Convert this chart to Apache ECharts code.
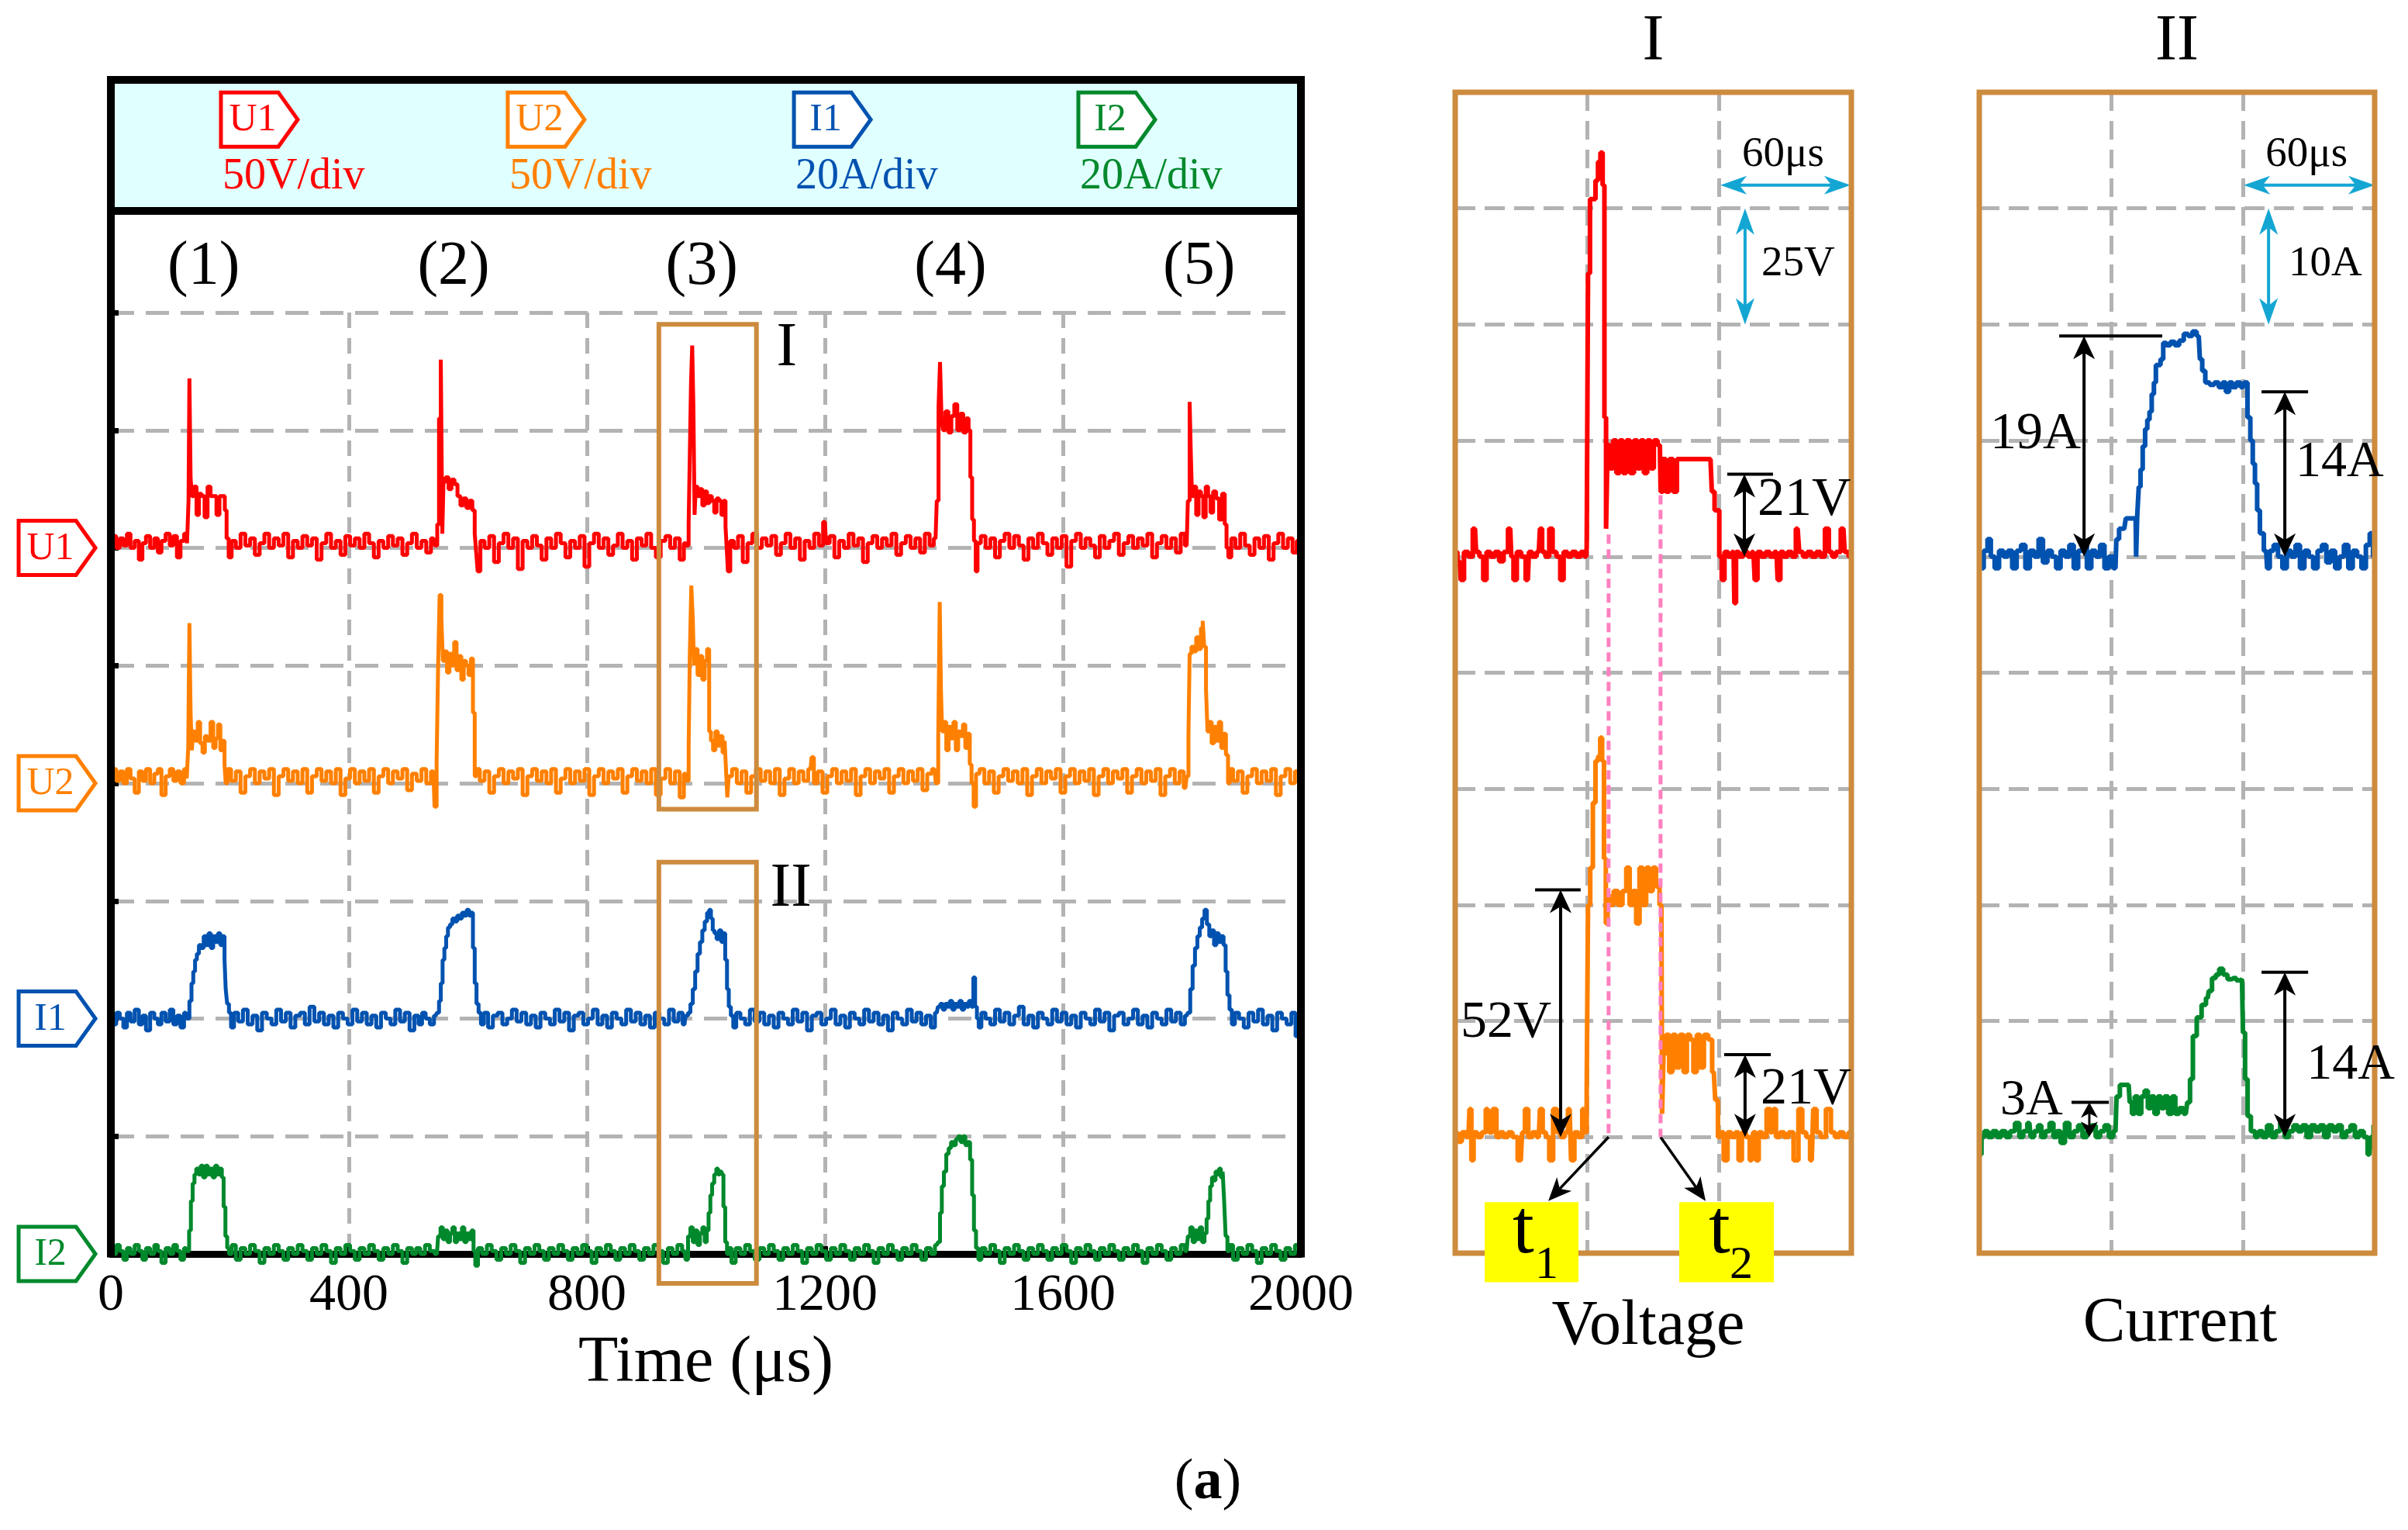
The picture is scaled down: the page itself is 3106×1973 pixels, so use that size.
<!DOCTYPE html>
<html><head><meta charset="utf-8">
<script src="https://cdn.jsdelivr.net/npm/echarts@6/dist/echarts.min.js"></script>
<style>html,body{margin:0;padding:0;background:#fff}#c{width:3106px;height:1973px}</style>
</head><body><div id="c"></div>
<script>
// ---------------- DATA ----------------
const xTicks = [0, 400, 800, 1200, 1600, 2000];          // µs
const zoomTicks = [0, 60, 120, 180];                     // µs (60 µs/div)
const channelNames = ['U1', 'U2', 'I1', 'I2'];
const channelScaleText = ['50V/div', '50V/div', '20A/div', '20A/div'];
const mainPerDiv = [50, 50, 20, 20];
const mainOffsetDiv = [6, 4, 2, 0];
const zoomPerDiv = [25, 25, 10, 10];
const zoomOffsetDiv = [6, 1, 6, 1];
const eventLabels = ['(1)', '(2)', '(3)', '(4)', '(5)'];
const eventTimes = [156, 576, 993, 1411, 1829];

// U1 (V) vs time (µs), main record
const U1_main = [[0,2],[6,5],[12,0],[18,4],[24,1],[30,6],[36,0],[44,3],[50,-5],[56,2],[62,5],[70,0],[76,4],[82,-2],[88,3],[96,6],[102,1],[108,5],[114,-4],[120,3],[126,6],[130,2],
[131,20],[133,72],[135,30],[137,22],[142,26],[146,14],[150,23],[155,22],[160,13],[165,26],[170,22],[175,22],[180,14],[185,22],[190,22],[193,16],[196,4],
[200,-4],[206,3],[214,0],[222,6],[230,1],[238,4],[246,-3],[254,2],[262,6],[270,0],[278,4],[286,1],[294,6],[302,-4],[310,3],[318,0],[326,5],[334,1],[342,4],[350,-5],[358,2],[366,6],[374,0],[382,3],[390,-3],[398,5],[406,1],[414,4],[422,0],[430,6],[438,2],[446,-4],[454,3],[462,0],[470,5],[478,1],[486,4],[494,-3],[502,2],[510,6],[518,0],[526,3],[534,-2],[542,4],[547,1],
[550,10],[553,55],[556,80],[558,6],[560,28],[565,30],[570,25],[575,29],[580,27],[585,22],[590,18],[595,21],[600,17],[605,20],[610,16],[613,6],[615,-2],
[618,-10],[624,3],[632,0],[640,5],[648,-6],[656,2],[664,6],[672,0],[680,4],[688,-9],[696,3],[704,0],[712,5],[720,1],[728,-5],[736,4],[744,0],[752,6],[760,2],[768,-4],[776,3],[784,0],[792,5],[800,-8],[808,2],[816,6],[824,0],[832,4],[840,-3],[848,1],[856,6],[864,0],[872,3],[880,-5],[888,4],[896,1],[904,6],[912,0],[920,-4],[928,3],[936,5],[944,0],[952,4],[960,-5],[966,2],[970,1],
[972,10],[974,40],[976,70],[978,86],[980,60],[982,14],[984,26],[988,22],[992,25],[996,18],[1000,24],[1004,19],[1008,22],[1012,20],[1016,15],[1020,21],[1024,20],[1028,14],[1032,20],[1034,9],[1036,0],
[1038,-10],[1044,3],[1050,0],[1058,5],[1066,-6],[1074,2],[1082,6],[1090,0],[1098,4],[1106,1],[1114,5],[1122,-3],[1130,2],[1138,6],[1146,0],[1154,4],[1162,-5],[1170,3],[1178,0],[1186,6],[1194,1],[1200,11],[1204,2],[1212,5],[1220,-4],[1228,3],[1236,0],[1244,6],[1252,1],[1260,4],[1268,-6],[1276,2],[1284,5],[1292,0],[1300,4],[1308,1],[1316,6],[1324,-3],[1332,2],[1340,5],[1348,0],[1356,4],[1364,-2],[1372,6],[1380,1],[1386,4],
[1390,20],[1392,60],[1395,79],[1397,55],[1400,50],[1405,58],[1410,49],[1415,56],[1420,61],[1425,50],[1430,57],[1435,49],[1440,55],[1443,50],[1446,30],[1449,12],[1452,3],[1455,-10],
[1458,2],[1466,5],[1474,0],[1482,4],[1490,-4],[1498,3],[1506,6],[1514,0],[1522,5],[1530,1],[1538,-5],[1546,4],[1554,0],[1562,6],[1570,2],[1578,-3],[1586,4],[1594,0],[1602,5],[1610,-8],[1618,3],[1626,6],[1634,0],[1642,4],[1650,1],[1658,-4],[1666,5],[1674,0],[1682,3],[1690,6],[1698,-3],[1706,2],[1714,5],[1722,0],[1730,4],[1738,1],[1746,6],[1754,-4],[1762,2],[1770,5],[1778,0],[1786,4],[1794,-2],[1802,6],[1808,1],
[1812,20],[1814,62],[1816,40],[1818,22],[1822,26],[1826,14],[1830,24],[1834,22],[1838,13],[1842,26],[1846,22],[1850,15],[1855,24],[1860,21],[1865,12],[1870,23],[1874,10],[1876,0],
[1880,-4],[1886,4],[1894,0],[1902,6],[1910,1],[1918,-3],[1926,4],[1934,0],[1942,5],[1950,-5],[1958,2],[1966,6],[1974,0],[1982,4],[1990,-2],[1996,3],[2000,1]];

// U2 (V)
const U2_main = [[0,3],[6,6],[12,1],[18,5],[24,0],[30,6],[36,2],[44,-4],[50,5],[56,1],[62,6],[70,0],[76,4],[82,6],[88,-5],[96,3],[102,6],[108,1],[114,5],[120,0],[126,6],[129,2],
[131,15],[133,68],[135,30],[137,14],[140,22],[144,18],[148,26],[152,17],[156,13],[160,20],[165,18],[170,26],[174,15],[178,19],[182,25],[186,14],[190,18],[192,8],[194,0],
[198,6],[206,1],[214,5],[222,-4],[230,3],[238,6],[246,0],[254,5],[262,2],[270,6],[278,-5],[286,3],[294,6],[302,1],[310,5],[318,0],[326,6],[334,-4],[342,3],[350,6],[358,1],[366,5],[374,0],[382,6],[390,-5],[398,2],[406,6],[414,0],[422,5],[430,1],[438,6],[446,-4],[454,3],[462,6],[470,0],[478,5],[486,2],[494,6],[502,-3],[510,4],[518,1],[526,6],[534,0],[542,5],[546,-10],
[549,10],[551,50],[554,80],[557,70],[559,52],[563,56],[567,47],[571,55],[575,50],[579,60],[583,48],[587,54],[591,44],[595,52],[599,50],[603,46],[607,53],[610,30],[613,3],
[616,6],[624,1],[632,5],[640,-4],[648,3],[656,6],[664,0],[672,5],[680,2],[688,6],[696,-5],[704,3],[712,6],[720,1],[728,5],[736,0],[744,6],[752,-4],[760,2],[768,6],[776,0],[784,5],[792,1],[800,6],[808,-5],[816,3],[824,6],[832,0],[840,5],[848,2],[856,6],[864,-4],[872,3],[880,6],[888,1],[896,5],[904,0],[912,6],[920,-5],[928,2],[936,6],[944,0],[952,5],[960,-6],[966,4],[970,1],
[972,15],[974,55],[977,84],[979,70],[981,50],[984,57],[988,46],[992,54],[996,44],[1000,52],[1004,57],[1007,22],[1010,18],[1014,14],[1018,22],[1022,16],[1026,20],[1030,13],[1033,18],[1035,5],[1037,-6],
[1040,3],[1048,6],[1056,0],[1064,5],[1072,-4],[1080,3],[1088,6],[1096,1],[1104,5],[1112,0],[1120,6],[1128,-5],[1136,2],[1144,6],[1152,0],[1160,5],[1168,1],[1176,6],[1179,11],[1184,0],[1192,5],[1200,-4],[1208,3],[1216,6],[1224,0],[1232,5],[1240,1],[1248,6],[1256,-5],[1264,3],[1272,6],[1280,0],[1288,5],[1296,2],[1304,6],[1312,-4],[1320,3],[1328,6],[1336,0],[1344,5],[1352,1],[1360,6],[1368,-3],[1376,4],[1384,6],[1389,0],
[1392,20],[1394,77],[1396,40],[1398,22],[1402,26],[1406,14],[1410,24],[1414,19],[1418,26],[1422,14],[1426,22],[1430,20],[1434,25],[1438,15],[1442,21],[1445,8],[1448,0],[1452,-10],
[1456,4],[1464,6],[1472,0],[1480,5],[1488,-4],[1496,3],[1504,6],[1512,1],[1520,5],[1528,0],[1536,6],[1544,-5],[1552,3],[1560,6],[1568,0],[1576,5],[1584,2],[1592,6],[1600,-4],[1608,3],[1616,6],[1624,0],[1632,5],[1640,1],[1648,6],[1656,-5],[1664,3],[1672,6],[1680,0],[1688,5],[1696,2],[1704,6],[1712,-4],[1720,3],[1728,6],[1736,0],[1744,5],[1752,1],[1760,6],[1768,-5],[1776,3],[1784,6],[1792,0],[1800,5],[1806,-2],[1810,3],
[1812,20],[1814,55],[1818,58],[1822,56],[1826,62],[1830,57],[1834,66],[1836,69],[1839,58],[1842,40],[1844,22],[1848,26],[1852,17],[1856,24],[1860,18],[1864,26],[1868,15],[1872,21],[1876,12],[1879,0],
[1882,6],[1890,1],[1898,5],[1906,-4],[1914,3],[1922,6],[1930,0],[1938,5],[1946,1],[1954,6],[1962,-5],[1970,3],[1978,6],[1986,0],[1994,5],[2000,2]];

// I1 (A)
const I1_main = [[0,0.5],[6,-1],[12,1],[18,0],[24,-1.5],[30,1],[36,-0.5],[44,1.5],[50,-1],[56,0.5],[62,-2],[70,1],[76,0],[82,-1],[88,1],[96,-0.5],[102,1.5],[108,-1],[114,0.5],[120,-1.5],[126,1],
[130,0],[134,3],[137,6],[140,8],[143,10],[146,11],[150,12.5],[154,12],[158,14],[162,12.5],[166,14.5],[170,12],[174,14],[178,13],[182,14.5],[186,12.5],[190,14],[192,10],[194,5],[197,2.5],[200,1],
[204,-1.5],[210,1],[218,-0.5],[226,1.5],[234,-1],[242,0.5],[250,-2],[258,1],[266,0],[274,-1],[282,1.5],[290,-0.5],[298,1],[306,-1.5],[314,0.5],[322,1],[330,-1],[338,2],[346,-0.5],[354,1],[362,-1],[370,0.5],[378,-1.5],[386,1],[394,0],[402,-1],[410,1.5],[418,-0.5],[426,1],[434,-1],[442,0.5],[450,-1.5],[458,1],[466,0],[474,-1],[482,1.5],[490,-0.5],[498,1],[506,-2],[514,0.5],[520,-1],[526,1],[532,0],[540,-1],[546,0.5],
[550,1],[553,3],[556,6],[559,10],[562,12],[565,14],[568,15.5],[572,16],[576,17],[580,16.5],[584,17.5],[588,17],[592,18],[596,17.5],[600,18.5],[604,17.5],[607,18],[610,12],[613,6],[616,2.5],[620,1],
[624,-1],[630,1],[638,-1.5],[646,0.5],[654,1],[662,-1],[670,0],[678,1.5],[686,-0.5],[694,1],[702,-1],[710,0.5],[718,-1.5],[726,1],[734,0],[742,-1],[750,1.5],[758,-0.5],[766,1],[774,-2],[782,0.5],[790,1],[798,-1],[806,0],[814,1.5],[822,-1],[830,0.5],[838,-1.5],[846,1],[854,0],[862,-1],[870,1.5],[878,-0.5],[886,1],[894,-1],[902,0.5],[910,-1.5],[918,1],[926,0],[934,-1],[942,1.5],[950,-0.5],[958,1],[964,-1],[968,0.5],
[972,1],[976,2.5],[980,5],[984,8],[988,11],[992,13],[996,15],[1000,16.5],[1004,18],[1007,18.5],[1010,17],[1013,15],[1016,14.5],[1020,13.5],[1024,15],[1028,13],[1031,14.5],[1034,10],[1037,5],[1040,2],[1044,0.5],
[1048,-1.5],[1054,1],[1062,0],[1070,-1],[1078,1.5],[1086,-0.5],[1094,1],[1102,-1],[1110,0.5],[1118,-1.5],[1126,1],[1134,0],[1142,-1],[1150,1.5],[1158,-0.5],[1166,1],[1174,-2],[1182,0.5],[1190,1],[1198,-1],[1206,0],[1214,1.5],[1222,-1],[1230,0.5],[1238,-1.5],[1246,1],[1254,0],[1262,-1],[1270,1.5],[1278,-0.5],[1286,1],[1294,-1],[1302,0.5],[1310,-2],[1318,1],[1326,0],[1334,-1],[1342,1.5],[1350,-0.5],[1358,1],[1366,-1],[1374,0.5],[1382,-1.5],[1388,1],
[1392,2],[1396,2.5],[1400,1.5],[1404,2.5],[1408,2],[1412,3],[1416,1.5],[1420,2.5],[1424,2],[1428,3],[1432,1.5],[1436,2.5],[1440,2],[1444,3],[1448,2],[1451,7],[1454,2],[1457,0],
[1460,-1.5],[1466,1],[1474,0],[1482,-1],[1490,1.5],[1498,-0.5],[1506,1],[1514,-1],[1522,0.5],[1530,2],[1538,-1],[1546,0.5],[1554,-1.5],[1562,1],[1570,0],[1578,-1],[1586,1.5],[1594,-0.5],[1602,1],[1610,-1],[1618,0.5],[1626,-1.5],[1634,1],[1642,0],[1650,-1],[1658,1.5],[1666,-0.5],[1674,1],[1682,-2],[1690,0.5],[1698,1],[1706,-1],[1714,0],[1722,1.5],[1730,-1],[1738,0.5],[1746,-1.5],[1754,1],[1762,0],[1770,-1],[1778,1.5],[1786,-0.5],[1794,1],[1802,-1],[1808,0.5],
[1812,1],[1816,5],[1820,9],[1824,12],[1828,14],[1832,15.5],[1836,17],[1840,18.5],[1844,16],[1848,14],[1852,15],[1856,12.5],[1860,14.5],[1864,13],[1868,14],[1872,12.5],[1875,8],[1878,4],[1882,1.5],
[1886,-1],[1892,1],[1900,0],[1908,-1.5],[1916,1],[1924,-0.5],[1932,1.5],[1940,-1],[1948,0.5],[1956,-2],[1964,1],[1972,0],[1980,-1],[1988,1],[1994,-3],[2000,0.5]];

// I2 (A)
const I2_main = [[0,1],[6,0],[12,1.5],[18,0.5],[24,-1],[30,1],[36,0],[44,1.5],[50,0.5],[56,-1],[62,1],[70,0],[76,1.5],[82,0.5],[88,-1.5],[96,1],[102,0],[108,1.5],[114,0.5],[120,-1],[126,1],
[130,0.5],[133,4],[136,9],[139,12],[142,13.5],[145,14.5],[149,13.5],[153,15],[157,13],[161,15],[165,13.5],[169,14.5],[173,13],[177,15],[181,13.5],[185,14.5],[188,13],[191,8],[194,3],[197,1],
[200,0],[206,1.5],[214,-1],[222,1],[230,0],[238,1.5],[246,0.5],[254,-1.5],[262,1],[270,0],[278,1.5],[286,0.5],[294,-1],[302,1],[310,0],[318,1.5],[326,0.5],[334,-1],[342,1],[350,0],[358,1.5],[366,0.5],[374,-1.5],[382,1],[390,0],[398,1.5],[406,0.5],[414,-1],[422,1],[430,0],[438,1.5],[446,0.5],[454,-1],[462,1],[470,0],[478,1.5],[486,0.5],[494,-1.5],[502,1],[510,0],[516,1],[524,0],[532,1.5],[540,0.5],[548,0],
[552,3],[556,4.5],[560,2.5],[564,4],[568,2],[572,3.5],[576,4.5],[580,2],[584,3.5],[588,2.5],[592,4.5],[596,2],[600,3.5],[604,2.5],[608,4],[611,0.5],
[614,-2],[620,1],[628,0],[636,1.5],[644,0.5],[652,-1],[660,1],[668,0],[676,1.5],[684,0.5],[692,-1.5],[700,1],[708,0],[716,1.5],[724,0.5],[732,-1],[740,1],[748,0],[756,1.5],[764,0.5],[772,-1],[780,1],[788,0],[796,1.5],[804,0.5],[812,-1.5],[820,1],[828,0],[836,1.5],[844,0.5],[852,-1],[860,1],[868,0],[876,1.5],[884,0.5],[892,-1],[900,1],[908,0],[916,1.5],[924,0.5],[932,-1.5],[940,1],[948,0],[956,1.5],[964,0.5],[968,-1],
[972,3],[976,4.5],[980,2],[984,4],[988,1.5],[992,3.5],[996,4.5],[1000,2],[1003,4],[1006,7],[1009,10],[1012,12],[1016,13.5],[1019,14.5],[1022,13.5],[1025,14],[1028,13.5],[1031,8],[1034,2],[1037,0],
[1040,1],[1046,-1.5],[1054,1],[1062,0],[1070,1.5],[1078,0.5],[1086,-1],[1094,1],[1102,0],[1110,1.5],[1118,0.5],[1126,-1],[1134,1],[1142,0],[1150,1.5],[1158,0.5],[1166,-1.5],[1174,1],[1182,0],[1190,1.5],[1198,0.5],[1206,-1],[1214,1],[1222,0],[1230,1.5],[1238,0.5],[1246,-1],[1254,1],[1262,0],[1270,1.5],[1278,0.5],[1286,-1.5],[1294,1],[1302,0],[1310,1.5],[1318,0.5],[1326,-1],[1334,1],[1342,0],[1350,1.5],[1358,0.5],[1366,-1],[1374,1],[1382,0],[1388,1.5],
[1392,2],[1395,7],[1398,11.5],[1402,14],[1406,17],[1410,18],[1414,19],[1418,18.5],[1422,19.5],[1426,20],[1430,19],[1434,20],[1438,18.5],[1442,19],[1446,16],[1449,10],[1452,4],[1456,1],
[1460,-1],[1466,1],[1474,0],[1482,1.5],[1490,0.5],[1498,-1.5],[1506,1],[1514,0],[1522,1.5],[1530,0.5],[1538,-1],[1546,1],[1554,0],[1562,1.5],[1570,0.5],[1578,-1],[1586,1],[1594,0],[1602,1.5],[1610,0.5],[1618,-1.5],[1626,1],[1634,0],[1642,1.5],[1650,0.5],[1658,-1],[1666,1],[1674,0],[1682,1.5],[1690,0.5],[1698,-1],[1706,1],[1714,0],[1722,1.5],[1730,0.5],[1738,-1.5],[1746,1],[1754,0],[1762,1.5],[1770,0.5],[1778,-1],[1786,1],[1794,0],[1802,1.5],[1808,0.5],
[1812,3],[1816,4.5],[1820,2],[1824,4],[1828,2.5],[1832,4.5],[1836,2],[1840,3.5],[1843,6],[1846,9],[1849,11.5],[1852,13],[1855,12.5],[1858,14],[1861,13.5],[1864,14.5],[1867,13],[1870,14],[1872,9],[1875,3],[1878,0.5],
[1882,1.5],[1890,-1],[1898,1],[1906,0],[1914,1.5],[1922,0.5],[1930,-1.5],[1938,1],[1946,0],[1954,1.5],[1962,0.5],[1970,-1],[1978,1],[1986,0],[1994,1.5],[2000,0.5]];

// Zoom I : voltages (V) vs time within window (µs)
const U1_zoom = [[0,1],[2,-1],[3,-5],[5,1],[7,0],[9,6],[10,1],[12,0],[13.5,-5],[15,1],[17,0],[19,1],[21,-1],[23,1],[25,6],[26,0],[27,-5],[29,1],[31,0],[33,-5],[34,1],[36,0],[38,1],[39,6],[40,1],[42,0],[43.5,6],[45,1],[47,0],[48.5,-5],[50,1],[52,0],[54,1],[56,0],[58,1],[59.5,0],
[60,2],[60.7,61],[61.8,77],[63.1,77],[64.4,81],[65.4,85],[66.6,87],[67.4,80],[68.2,30],[68.9,6],[69.6,24],
[71,19],[72.5,25],[74,18],[75.5,25],[77,18],[78.5,25],[80.5,18],[82,25],[83.5,19],[85,25],[86.5,18],[88,25],[89.5,19],[91,25],[93,24],
[93.7,14],[95,21],[96.5,14],[98,21],[100,14],[101.5,21],[104,21],[106,21],[108,21],[110,21],[112,21],[114,21],[116,21],[117.2,14],[118.5,10],[119.5,10],[120.5,0],
[121.7,-5],[123,1],[125,0],[126.5,1],[127.2,-10],[128,1],[130,0],[132,1],[134,0],[135.5,1],[136.7,-5],[138,1],[140,0],[142,1],[144,0],[146,1],[147,-5],[148.5,1],[150,0],[152,1],[154,0],[155.6,6],[157,1],[159,0],[161,1],[163,0],[165,1],[167,0],[169,6],[170.5,1],[172,0],[174,1],[176.4,6],[177.5,1],[180,0]];

const U2_zoom = [[0,1],[2,-1],[4,1],[6,0],[7,6],[7.7,-5],[9,1],[11,0],[13,1],[14.8,6],[16,1],[18,6],[19.5,0],[21,1],[23,0],[25,1],[27,0],[29.8,-5],[31,1],[32.4,6],[34,0],[36,1],[38,0],[39,6],[40.5,1],[42,0],[43.5,-5],[45.5,6],[47,1],[49,0],[50.5,1],[52,6],[53.3,-5],[55,1],[57,0],[58.5,6],[59.5,1],
[60,10],[60.7,50],[62,58],[63.1,72],[64.4,81],[65.5,82],[66.3,86],[67.2,81],[68,60],[68.9,46],[69.6,52],[71,50],[73,53],[75,50],[77,53],[78.5,58],[80,50],[81.5,53],[83,46],[84.5,58],[86,50],[87.5,58],[89,53],[90.5,58],[92,54],[93.7,50],
[94.3,5],[95,18],[96.5,22],[98,14],[99.5,22],[101,15],[103,22],[104.5,14],[106,22],[107.5,21],[109,14],[110.5,22],[112,15],[114,22],[116,21],[117.5,14],[118.8,8],[120,0],
[121,1],[123,-5],[124.5,1],[126.5,0],[128,1],[129.5,-5],[131,1],[133,0],[134.7,-5],[136,1],[137.3,-5],[138.5,1],[140.5,0],[142.5,6],[144,1],[145,6],[146.5,0],[148.5,1],[150.5,0],[152.5,1],[155,-5],[156.9,6],[158.5,1],[160.5,0],[162,-5],[163.4,6],[165,1],[167,0],[169.9,6],[171.5,1],[173.5,0],[175.5,1],[177.5,0],[180,1]];

// Zoom II : currents (A)
const I1_zoom = [[0,0.5],[1,-1],[3,0.5],[4.5,1.5],[6,0],[8,-1],[10,0.5],[12,0],[14,0.5],[16,-1],[18,0.5],[20,1],[22,-1],[24,0.5],[26,0],[28,1.5],[30,-0.5],[32,0.5],[34,0],[36,-1],[38,0.5],[40,0],[42,1],[44,-1],[46,0.5],[48,1],[50,-1],[52,0.5],[54,0],[56,1],[58,-1],[60,0],[62,-1],
[62.8,1.5],[64.5,2.4],[66,2.4],[67.4,3.3],[71.2,3.3],[71.6,0],[72.2,3.5],[73,6],[73.8,7.5],[75,9.5],[76,11],[77,11.8],[78,12.5],[79,14],[80,15],[80.8,16.5],[82,16.5],[83,17],[84.5,18.4],[86,18.2],[88,18.5],[90,18.2],[92,18.6],[94.2,19.2],[96,19],[98,19.4],[99.9,19],[101,17],[102,16],[103.8,15],[106,14.8],[108,15],[110,14.6],[111.5,15],[113,14.2],[114.5,15],[116,14.6],[118,15],[120,14.6],[121.4,15],[122.8,12],[124,10],[125,8],[126,6.3],[127,4],[128.5,2],[130.6,0.5],
[131.5,-1],[133,0.5],[135,1],[137,0],[139,-1],[141,0.5],[143,0],[145,1],[147,-1],[149,0.5],[151,0],[153,-1],[155,0.5],[157,1],[159,-0.5],[161,0.5],[163,-1],[165,0],[167,1],[169,-1],[171,0.5],[173,0],[175,-1],[177,1],[178.5,2],[180,0]];

const I2_zoom = [[0,-0.5],[0.5,-1.5],[1.5,0],[3,0.5],[5,0],[7,0.5],[9,0],[11,0.5],[13,0],[15,0.5],[17.5,1.2],[19,0],[21,0.5],[22.8,1.2],[24,0],[26,0.5],[27.5,1],[29,0],[31,0.5],[33,1.2],[34.5,0],[36,0.5],[38,-0.5],[40,1.2],[42,0],[44,0.5],[46,1],[48,0],[50,0.5],[52,1],[54,0],[56,0.5],[58,1],[60,0],[62,0.5],
[63,3.5],[65,4.5],[68,4.5],[69,3],[70,2],[71.5,3.5],[73,2],[74.5,3.5],[76,4],[77.5,2.5],[79,3.5],[80.5,2],[82,3.5],[83.5,2.5],[85,3.5],[87,2],[88.5,3.5],[90,2],[92,2.5],[94,2],[95.4,3],
[96.5,5],[98,8.7],[100,10.3],[102.4,11.4],[104,12],[105,12.6],[106.9,13.7],[108.5,14],[110,14.5],[112,14],[114,13.6],[116,13.7],[118,13.5],[119.6,13.6],[120.5,9],[121.5,5],[122.8,1.8],[124.5,0.5],[126.7,0],
[128,0.5],[130,0],[132,1],[134,0],[136,0.5],[138,1.2],[140,0],[142,0.5],[144,1],[146,0.5],[148,1],[150,0],[152,1],[154,0.5],[156,1],[158,0],[160,1],[162,0.5],[164,1],[166,0],[168,0.5],[170,1],[172,0],[174,0.5],[176,0],[177.6,-1.5],[179,0],[180,1]];

const mainData = [U1_main, U2_main, I1_main, I2_main];
const zoomData = [U1_zoom, U2_zoom, I1_zoom, I2_zoom];

// ---------------- STYLE ----------------
const colors = ['#FF0000', '#FF8000', '#0052B0', '#00892C'];
const SERIF = '"Liberation Serif", "Times New Roman", serif';
const GRIDC = '#B3B3B3';
const PERU = '#CD8B3E';
const CYAN = '#14A6D3';
const PINK = '#FF80C0';

const chart = echarts.init(document.getElementById('c'), null, {renderer: 'canvas'});

const series = [];
for (let i = 0; i < 4; i++) {
  series.push({
    type: 'line', name: channelNames[i], xAxisIndex: 0, yAxisIndex: 0,
    showSymbol: false, symbol: 'none', step: 'middle', clip: false, z: 3,
    lineStyle: {color: colors[i], width: 5},
    data: mainData[i].map(p => [p[0], mainOffsetDiv[i] + p[1] / mainPerDiv[i]])
  });
}
for (let i = 0; i < 4; i++) {
  const g = i < 2 ? 1 : 2;
  series.push({
    type: 'line', name: channelNames[i] + ' zoom', xAxisIndex: g, yAxisIndex: g,
    showSymbol: false, symbol: 'none', step: 'middle', clip: true, z: 3,
    lineStyle: {color: colors[i], width: 6},
    data: zoomData[i].map(p => [p[0], zoomOffsetDiv[i] + p[1] / zoomPerDiv[i]])
  });
}

const zoomX = gi => ({
  gridIndex: gi, type: 'value', min: zoomTicks[0], max: zoomTicks[zoomTicks.length - 1], interval: 60,
  axisLine: {show: false}, axisTick: {show: false}, axisLabel: {show: false},
  splitLine: {show: true, showMinLine: false, showMaxLine: false, lineStyle: {color: GRIDC, width: 5, type: [24, 13]}}
});
const zoomY = gi => ({
  gridIndex: gi, type: 'value', min: 0, max: 10, interval: 1,
  axisLine: {show: false}, axisTick: {show: false}, axisLabel: {show: false},
  splitLine: {show: true, showMinLine: false, showMaxLine: false, lineStyle: {color: GRIDC, width: 5, type: [26, 12]}}
});

const option = {
  backgroundColor: '#ffffff',
  animation: false,
  grid: [
    {left: 143, top: 403, width: 1535, height: 1214},
    {left: 1877, top: 119, width: 511, height: 1497},
    {left: 2553, top: 119, width: 510, height: 1497}
  ],
  xAxis: [
    {gridIndex: 0, type: 'value', min: xTicks[0], max: xTicks[xTicks.length - 1], interval: xTicks[1] - xTicks[0],
     axisLine: {show: true, lineStyle: {color: '#000', width: 9}},
     axisTick: {show: true, inside: true, length: 10, lineStyle: {color: '#000', width: 7}},
     axisLabel: {color: '#000', fontSize: 68, fontFamily: SERIF, margin: 20, formatter: v => String(v)},
     splitLine: {show: true, lineStyle: {color: GRIDC, width: 5, type: [20, 13]}},
     name: 'Time (μs)', nameLocation: 'middle', nameGap: 100,
     nameTextStyle: {color: '#000', fontSize: 84, fontFamily: SERIF}},
    zoomX(1), zoomX(2)
  ],
  yAxis: [
    {gridIndex: 0, type: 'value', min: 0, max: 8, interval: 1,
     axisLine: {show: false},
     axisTick: {show: true, inside: true, length: 10, lineStyle: {color: '#000', width: 7}},
     axisLabel: {show: false},
     splitLine: {show: true, lineStyle: {color: GRIDC, width: 5, type: [30, 15]}}},
    zoomY(1), zoomY(2)
  ],
  series: series
};
chart.setOption(option);

// ---------------- DECORATION / ANNOTATIONS ----------------
const M = (t, d) => chart.convertToPixel({gridIndex: 0}, [t, d]);
const A = (t, d) => chart.convertToPixel({gridIndex: 1}, [t, d]);
const B = (t, d) => chart.convertToPixel({gridIndex: 2}, [t, d]);

const G = [];
const txt = (p, text, size, color, align, weight) => ({
  type: 'text', z: 130, x: p[0], y: p[1],
  style: {text: text, fill: color || '#000', font: (weight || 'normal') + ' ' + size + 'px ' + SERIF,
          align: align || 'center', verticalAlign: 'middle'}
});
const seg = (p, q, color, w, dash, z) => ({
  type: 'line', z: z || 120, shape: {x1: p[0], y1: p[1], x2: q[0], y2: q[1]},
  style: {stroke: color, lineWidth: w, lineDash: dash || null}
});
const rect = (p, q, fill, stroke, w, z) => ({
  type: 'rect', z: z || 110,
  shape: {x: Math.min(p[0], q[0]), y: Math.min(p[1], q[1]), width: Math.abs(q[0] - p[0]), height: Math.abs(q[1] - p[1])},
  style: {fill: fill || 'transparent', stroke: stroke || null, lineWidth: w || 0}
});
function head(tip, from, len, hw, color) {
  const dx = tip[0] - from[0], dy = tip[1] - from[1];
  const L = Math.hypot(dx, dy) || 1;
  const ux = dx / L, uy = dy / L, nx = -uy, ny = ux;
  const bx = tip[0] - ux * len, by = tip[1] - uy * len;
  const nt = [tip[0] - ux * len * 0.72, tip[1] - uy * len * 0.72];
  return {type: 'polygon', z: 125, shape: {points: [[bx + nx * hw, by + ny * hw], tip, [bx - nx * hw, by - ny * hw], nt]}, style: {fill: color}};
}
function dArrow(p, q, color, w, len, hw) {
  const dx = q[0] - p[0], dy = q[1] - p[1], L = Math.hypot(dx, dy);
  const ux = dx / L, uy = dy / L, s = len * 0.7;
  G.push(seg([p[0] + ux * s, p[1] + uy * s], [q[0] - ux * s, q[1] - uy * s], color, w));
  G.push(head(p, q, len, hw, color));
  G.push(head(q, p, len, hw, color));
}
function sArrow(p, q, color, w, len, hw) {
  const dx = q[0] - p[0], dy = q[1] - p[1], L = Math.hypot(dx, dy);
  const ux = dx / L, uy = dy / L, s = len * 0.7;
  G.push(seg(p, [q[0] - ux * s, q[1] - uy * s], color, w));
  G.push(head(q, p, len, hw, color));
}
function tag(x, yc, color, label) {
  G.push({type: 'polygon', z: 115, shape: {points: [[x, yc - 35], [x + 74, yc - 35], [x + 99, yc], [x + 74, yc + 35], [x, yc + 35]]},
          style: {fill: '#ffffff', stroke: color, lineWidth: 5}});
  G.push(txt([x + 41, yc + 1], label, 50, color));
}

// legend band + frame of the main record
const L0 = M(0, 9.977), L1 = M(2000, 8.863);
G.push(rect(L0, L1, '#E0FFFF', null, 0, 1));
G.push(seg([L0[0] - 5, L0[1]], [L1[0] + 5, L0[1]], '#000', 10, null, 140));
G.push(seg([L0[0] - 5, L1[1]], [L1[0] + 5, L1[1]], '#000', 10, null, 140));
const fTop = M(0, 10.01)[1], fBot = M(0, -0.03)[1];
G.push(seg([L0[0], fTop], [L0[0], fBot], '#000', 10, null, 140));
G.push(seg([L1[0], fTop], [L1[0], fBot], '#000', 10, null, 140));

// legend items
const legendT = [185, 667, 1148, 1626];
for (let i = 0; i < 4; i++) {
  const x = M(legendT[i], 0)[0];
  tag(x, M(0, 9.64)[1], colors[i], channelNames[i]);
  G.push(txt([x + 2, M(0, 9.15)[1]], channelScaleText[i], 56, colors[i], 'left'));
}
// channel reference markers at the left
for (let i = 0; i < 4; i++) {
  tag(M(-155, 0)[0], M(0, mainOffsetDiv[i])[1], colors[i], channelNames[i]);
}
// event numbers
for (let i = 0; i < eventLabels.length; i++) G.push(txt(M(eventTimes[i], 8.38), eventLabels[i], 80));
// zoom boxes on main record
G.push(rect(M(921, 7.9), M(1085, 3.78), 'transparent', PERU, 6, 118));
G.push(rect(M(921, 3.33), M(1085, -0.25), 'transparent', PERU, 6, 118));
G.push(txt(M(1136, 7.69), 'I', 80));
G.push(txt(M(1143, 3.10), 'II', 80));
// (a)
G.push({type: 'text', z: 130, x: M(1843.6, -1.95)[0], y: M(1843.6, -1.95)[1],
        style: {text: '({b|a})', fill: '#000', font: 'normal 74px ' + SERIF, align: 'center', verticalAlign: 'middle',
                rich: {b: {fontWeight: 'bold', fontSize: 74, fontFamily: SERIF, fill: '#000'}}}});

// ----- Zoom panel I -----
G.push(txt(A(90, 10.43), 'I', 84));
dArrow(A(120.5, 9.2), A(179.6, 9.2), CYAN, 4, 34, 12);
G.push(txt(A(149, 9.46), '60μs', 55));
dArrow(A(131.7, 9), A(131.7, 8), CYAN, 4, 34, 12);
G.push(txt(A(139.1, 8.52), '25V', 55, '#000', 'left'));
G.push(seg(A(123.6, 6.71), A(144.4, 6.71), '#000', 4));
dArrow(A(131.4, 6.71), A(131.4, 6.0), '#000', 4, 30, 14);
G.push(txt(A(137.4, 6.48), '21V', 70, '#000', 'left'));
G.push(seg(A(36.3, 3.13), A(57, 3.13), '#000', 4));
dArrow(A(47.9, 3.13), A(47.9, 1.0), '#000', 4, 30, 14);
G.push(txt(A(2.5, 1.98), '52V', 68, '#000', 'left'));
G.push(seg(A(122.2, 1.71), A(143.4, 1.71), '#000', 4));
dArrow(A(131.7, 1.71), A(131.7, 1.0), '#000', 4, 30, 14);
G.push(txt(A(138.8, 1.41), '21V', 68, '#000', 'left'));
G.push(seg(A(69.7, 6.19), A(69.7, 1.0), PINK, 5, [12, 7], 121));
G.push(seg(A(93.3, 6.53), A(93.3, 1.0), PINK, 5, [12, 7], 121));
sArrow(A(69.7, 1.0), A(42.3, 0.45), '#000', 3.5, 30, 13);
sArrow(A(93.3, 1.0), A(113.8, 0.45), '#000', 3.5, 30, 13);
G.push(rect(A(13.4, 0.44), A(56, -0.25), '#FFFF00', null, 0, 135));
G.push(rect(A(101.8, 0.44), A(144.8, -0.25), '#FFFF00', null, 0, 135));
const tt = (p, s) => Object.assign(txt(p, s, 100, '#000', 'center', 'normal'), {z: 140});
const ts = (p, s) => Object.assign(txt(p, s, 60, '#000', 'center'), {z: 140});
G.push(tt(A(31, 0.18), 't'));  G.push(ts(A(41.6, -0.107), '1'));
G.push(tt(A(120.1, 0.18), 't')); G.push(ts(A(130, -0.107), '2'));
G.push(txt(A(87.7, -0.635), 'Voltage', 82));

// ----- Zoom panel II -----
G.push(txt(B(90, 10.43), 'II', 84));
dArrow(B(120.4, 9.2), B(180, 9.2), CYAN, 4, 34, 12);
G.push(txt(B(149, 9.46), '60μs', 55));
dArrow(B(131.7, 9), B(131.7, 8), CYAN, 4, 34, 12);
G.push(txt(B(140.8, 8.52), '10A', 55, '#000', 'left'));
G.push(seg(B(36.4, 7.9), B(83.3, 7.9), '#000', 4));
dArrow(B(47.7, 7.9), B(47.7, 6.0), '#000', 4, 30, 14);
G.push(txt(B(4.9, 7.05), '19A', 68, '#000', 'left'));
G.push(seg(B(128.5, 7.42), B(149.7, 7.42), '#000', 4));
dArrow(B(139.1, 7.42), B(139.1, 6.0), '#000', 4, 30, 14);
G.push(txt(B(144, 6.81), '14A', 66, '#000', 'left'));
G.push(seg(B(42, 1.3), B(59, 1.3), '#000', 4));
dArrow(B(50.1, 1.3), B(50.1, 1.0), '#000', 3, 20, 11);
G.push(txt(B(9.5, 1.31), '3A', 66, '#000', 'left'));
G.push(seg(B(128.5, 2.42), B(149.7, 2.42), '#000', 4));
dArrow(B(139.1, 2.42), B(139.1, 1.0), '#000', 4, 30, 14);
G.push(txt(B(149, 1.62), '14A', 66, '#000', 'left'));
G.push(txt(B(91.4, -0.61), 'Current', 82));

// panel borders (on top)
G.push(rect(A(0, 10), A(180, 0), 'transparent', PERU, 7, 128));
G.push(rect(B(0, 10), B(180, 0), 'transparent', PERU, 7, 128));

chart.setOption({graphic: {elements: G}});
</script></body></html>
